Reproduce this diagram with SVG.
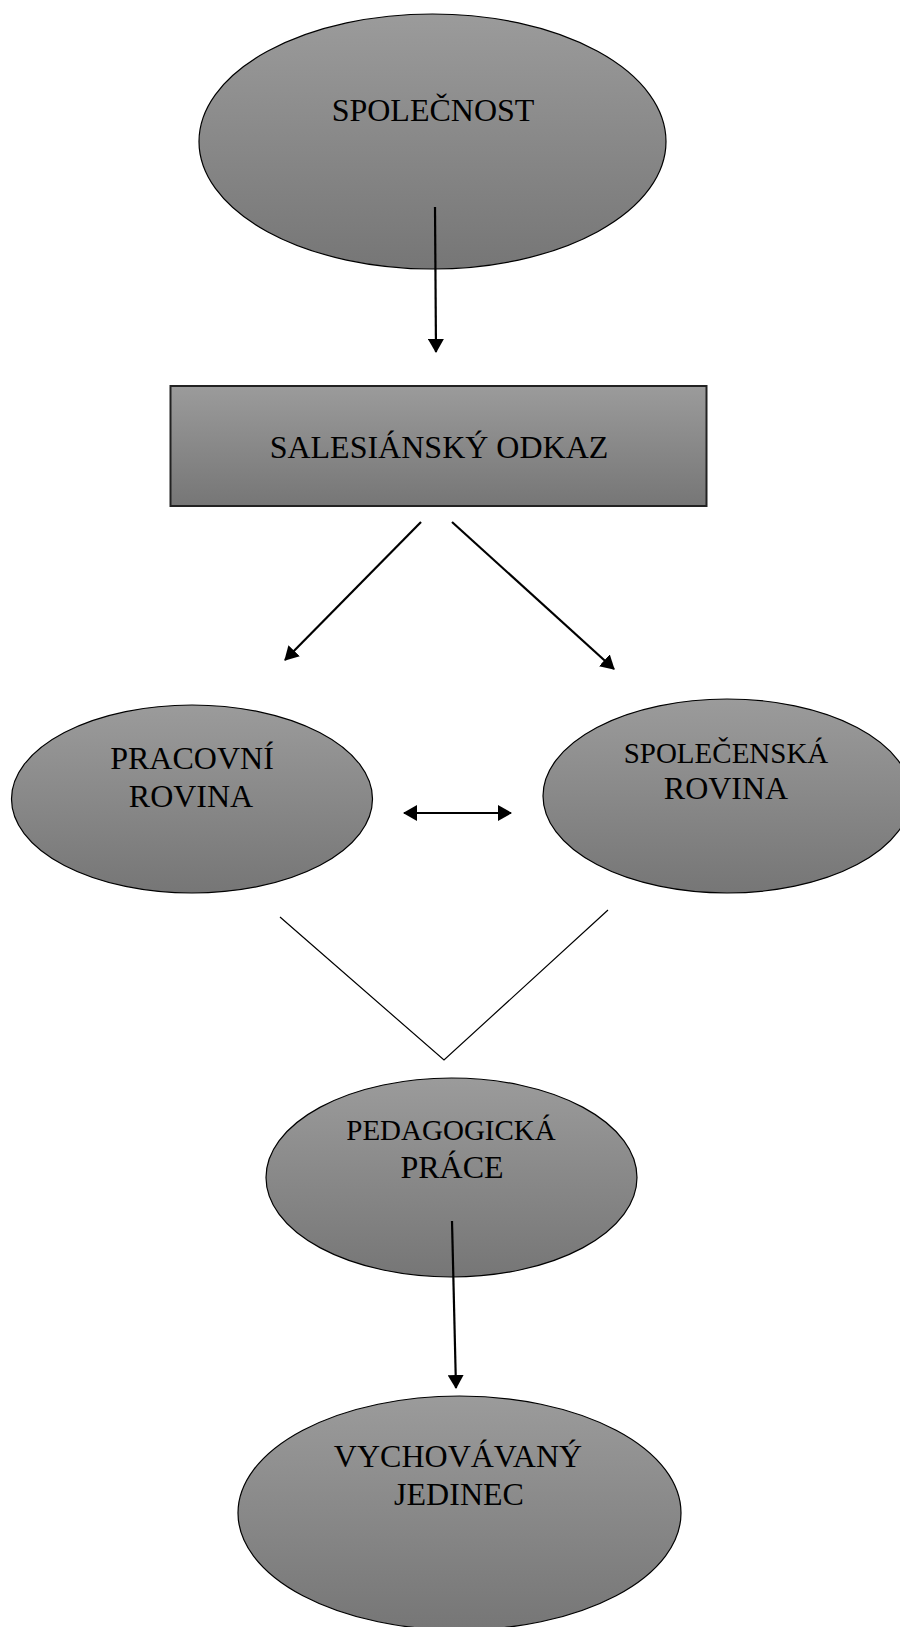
<svg xmlns="http://www.w3.org/2000/svg" width="900" height="1627" viewBox="0 0 900 1627">
<defs>
<linearGradient id="g" x1="0" y1="0" x2="0" y2="1">
<stop offset="0" stop-color="#9b9b9b"/>
<stop offset="1" stop-color="#767676"/>
</linearGradient>
<marker id="ah" viewBox="0 0 14 16" refX="13" refY="8" markerWidth="14" markerHeight="16" orient="auto-start-reverse" markerUnits="userSpaceOnUse">
<path d="M0,0 L14,8 L0,16 Z" fill="#000"/>
</marker>
<style>
.shape{fill:url(#g);stroke:#000;stroke-width:1.2}
.box{fill:url(#g);stroke:#222;stroke-width:2}
.t{font-family:"Liberation Serif","Times New Roman",serif;font-size:32px;fill:#000;text-anchor:middle}
.s{font-size:29px}
.arrow{stroke:#000;stroke-width:2.2;fill:none;marker-end:url(#ah)}
.thin{stroke:#000;stroke-width:1.2;fill:none}
</style>
</defs>
<g id="spolecnost">
<ellipse class="shape" cx="432.5" cy="141.5" rx="233.5" ry="127.5"/>
<text class="t" x="433" y="121">SPOLEČNOST</text>
</g>
<g id="salesiansky-odkaz">
<rect class="box" x="170.5" y="386" width="536" height="120"/>
<text class="t" x="439" y="458">SALESIÁNSKÝ ODKAZ</text>
</g>
<g id="pracovni-rovina">
<ellipse class="shape" cx="192" cy="799" rx="180.5" ry="94"/>
<text class="t" x="192" y="769">PRACOVNÍ</text>
<text class="t" x="191" y="807">ROVINA</text>
</g>
<g id="spolecenska-rovina">
<ellipse class="shape" cx="727" cy="796" rx="184" ry="97"/>
<text class="t s" x="726" y="763">SPOLEČENSKÁ</text>
<text class="t" x="726" y="799">ROVINA</text>
</g>
<g id="pedagogicka-prace">
<ellipse class="shape" cx="451.5" cy="1177.5" rx="185.5" ry="99.5"/>
<text class="t s" x="451" y="1140">PEDAGOGICKÁ</text>
<text class="t" x="452" y="1178">PRÁCE</text>
</g>
<g id="vychovavany-jedinec">
<ellipse class="shape" cx="459.5" cy="1513" rx="221.5" ry="117"/>
<text class="t" x="458" y="1467">VYCHOVÁVANÝ</text>
<text class="t" x="459" y="1505">JEDINEC</text>
</g>
<g id="connectors">
<line class="arrow" x1="435" y1="207" x2="436" y2="352"/>
<line class="arrow" x1="421" y1="522" x2="285" y2="660"/>
<line class="arrow" x1="452" y1="522" x2="614" y2="669"/>
<line class="arrow" x1="404" y1="813" x2="511" y2="813" style="marker-start:url(#ah)"/>
<polyline class="thin" points="280,917 444,1060 608,910"/>
<line class="arrow" x1="452" y1="1221" x2="456" y2="1388"/>
</g>
</svg>
